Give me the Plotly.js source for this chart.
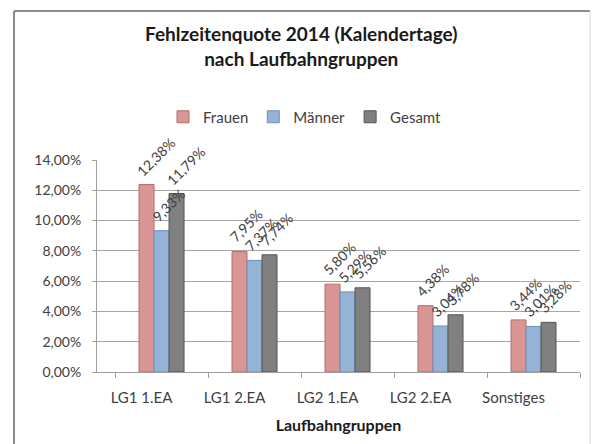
<!DOCTYPE html>
<html><head><meta charset="utf-8">
<script src="https://cdn.plot.ly/plotly-3.0.1.min.js"></script>
<style>html,body{margin:0;padding:0;background:#fff}#chart{width:593px;height:444px}</style>
</head><body><div id="chart"></div>
<script>
const categories = ["LG1 1.EA", "LG1 2.EA", "LG2 1.EA", "LG2 2.EA", "Sonstiges"];
const frauen = [0.1238, 0.0795, 0.0580, 0.0438, 0.0344];
const maenner = [0.0933, 0.0737, 0.0529, 0.0304, 0.0301];
const gesamt = [0.1179, 0.0774, 0.0556, 0.0378, 0.0328];
const seriesNames = ["Frauen", "Männer", "Gesamt"];
const yTicks = [0, 0.02, 0.04, 0.06, 0.08, 0.10, 0.12, 0.14];

const FONT = "Lato, 'Open Sans', sans-serif";
const colors = ["#D99694", "#95B3D7", "#808080"];
const lineColors = ["#B36F6D", "#6F8FB8", "#555555"];
const labelShift = [-31, -16, -1];
const series = [frauen, maenner, gesamt];

const fmt = v => (v * 100).toFixed(2).replace(".", ",") + "%";

const traces = series.map((vals, i) => ({
  type: "bar",
  name: seriesNames[i],
  x: categories,
  y: vals,
  marker: {color: colors[i], line: {color: lineColors[i], width: 1}},
  hoverinfo: "skip"
}));

const annotations = [];
series.forEach((vals, i) => {
  vals.forEach((v, j) => {
    annotations.push({
      x: categories[j], y: v, xref: "x", yref: "y",
      text: fmt(v), textangle: -45, showarrow: false,
      xanchor: "left", yanchor: "bottom",
      xshift: labelShift[i], yshift: 3,
      font: {family: FONT, size: 14, color: "#404040"}
    });
  });
});

const layout = {
  width: 593, height: 444,
  margin: {l: 97, r: 13, t: 160, b: 72},
  paper_bgcolor: "#fff", plot_bgcolor: "#fff",
  separators: ",.",
  font: {family: FONT, color: "#404040"},
  barmode: "group",
  bargap: 0.516,
  bargroupgap: 0,
  showlegend: true,
  title: {
    text: "<b>Fehlzeitenquote 2014 (Kalendertage)<br>nach Laufbahngruppen</b>",
    font: {family: FONT, size: 19, color: "#1a1a1a"},
    x: 0.508, xref: "container", xanchor: "center",
    y: 1 - 41/444, yref: "container", yanchor: "top"
  },
  legend: {
    orientation: "h",
    x: (305 - 97)/483, xanchor: "center",
    y: (372 - 117)/212, yanchor: "middle",
    font: {family: FONT, size: 15, color: "#404040"},
    itemwidth: 30,
    traceorder: "normal"
  },
  annotations: annotations,
  xaxis: {
    type: "category",
    range: [-0.694, 4.5],
    showgrid: false,
    showline: true, linecolor: "#A0A0A0", linewidth: 1,
    ticks: "outside", tickson: "boundaries", ticklen: 5, tickcolor: "#A0A0A0",
    ticklabelshift: -20,
    ticklabelstandoff: 12,
    tickfont: {family: FONT, size: 15, color: "#404040"},
    title: {text: "<b>Laufbahngruppen</b>", font: {family: FONT, size: 16, color: "#1a1a1a"}, standoff: 14},
    fixedrange: true
  },
  yaxis: {
    range: [0, 0.14],
    tickvals: yTicks,
    tickformat: ".2%",
    showgrid: true, gridcolor: "#A6A6A6", gridwidth: 1,
    zeroline: false,
    showline: true, linecolor: "#A0A0A0", linewidth: 1,
    ticks: "outside", ticklen: 4, tickcolor: "#A0A0A0",
    ticklabelstandoff: 8,
    tickfont: {family: FONT, size: 14, color: "#404040"},
    fixedrange: true
  },
  shapes: [
    {type: "line", xref: "paper", yref: "paper", x0: (14-97)/483, x1: (590-97)/483, y0: (372-11)/212, y1: (372-11)/212, line: {color: "#8C8C8C", width: 2}},
    {type: "line", xref: "paper", yref: "paper", x0: (14-97)/483, x1: (14-97)/483, y0: (372-11)/212, y1: (372-446)/212, line: {color: "#8C8C8C", width: 2}},
    {type: "line", xref: "paper", yref: "paper", x0: (590-97)/483, x1: (590-97)/483, y0: (372-11)/212, y1: (372-446)/212, line: {color: "#D9D9D9", width: 1}}
  ]
};

Plotly.newPlot("chart", traces, layout, {displayModeBar: false, staticPlot: true});
</script></body></html>
